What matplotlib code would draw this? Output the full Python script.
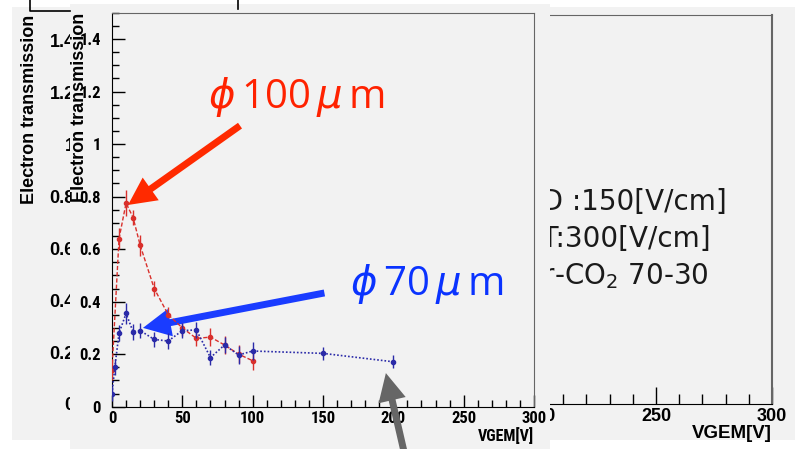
import matplotlib
matplotlib.use('Agg')
import matplotlib.pyplot as plt
from matplotlib import font_manager
from matplotlib.lines import Line2D
from matplotlib.ticker import MultipleLocator

plt.rcParams['mathtext.fontset'] = 'dejavusans'

# phi 100 um holes (red)
v100 = [0, 5, 10, 15, 20, 30, 40, 50, 60, 70, 80, 90, 100]
t100 = [0.14, 0.64, 0.775, 0.72, 0.615, 0.45, 0.35, 0.30, 0.26, 0.265, 0.235, 0.20, 0.175]
e100 = [0.04, 0.04, 0.05, 0.03, 0.04, 0.03, 0.03, 0.03, 0.03, 0.035, 0.035, 0.035, 0.035]

# phi 70 um holes (blue)
v70 = [0, 2, 5, 10, 15, 20, 30, 40, 50, 60, 70, 80, 90, 100, 150, 200]
t70 = [0.05, 0.15, 0.28, 0.355, 0.285, 0.29, 0.256, 0.25, 0.29, 0.292, 0.187, 0.235, 0.197, 0.212, 0.203, 0.171]
e70 = [0.03, 0.03, 0.03, 0.04, 0.03, 0.03, 0.03, 0.03, 0.03, 0.03, 0.03, 0.03, 0.035, 0.035, 0.025, 0.025]

xtick_vals = [0, 50, 100, 150, 200, 250, 300]
xtick_labels = ['0', '50', '100', '150', '200', '250', '300']
ytick_vals = [0, 0.2, 0.4, 0.6, 0.8, 1.0, 1.2, 1.4]
ytick_labels = ['0', '0.2', '0.4', '0.6', '0.8', '1', '1.2', '1.4']
cond_lines = ['ED :150[V/cm]', 'ET:300[V/cm]', 'Ar-CO$_2$ 70-30']

# the inner ROOT plot is squeezed sideways; a narrow helvetica mimics that
wide = ['Liberation Sans', 'DejaVu Sans']
narrow, nscale = wide, 0.8
for cand in ['Liberation Sans Narrow', 'DejaVu Sans Condensed', 'Roboto Condensed']:
    try:
        font_manager.findfont(font_manager.FontProperties(family=cand),
                              fallback_to_default=False)
        narrow, nscale = [cand, 'DejaVu Sans'], 1.0
        break
    except ValueError:
        pass

W, H = 795, 449
fig = plt.figure(figsize=(W / 100, H / 100), dpi=100)
fig.patch.set_facecolor('white')

def box(x0, y0, x1, y1):
    # pixel box (top-left origin) -> figure fraction
    return [x0 / W, 1 - y1 / H, (x1 - x0) / W, (y1 - y0) / H]

bg = '#f2f2f2'

# back slide panel
ax_bgp = fig.add_axes(box(12, 7, 795, 440), zorder=0)
ax_bgp.set_facecolor(bg)
ax_bgp.set_xticks([]); ax_bgp.set_yticks([])
for s in ax_bgp.spines.values():
    s.set_visible(False)

# back plot (mostly hidden)
ax_b = fig.add_axes(box(76, 15, 772, 404), zorder=1)
ax_b.set_facecolor('none')
ax_b.set_xlim(0, 300)
ax_b.set_ylim(0, 1.5)
ax_b.set_xticks(xtick_vals, xtick_labels, fontweight='bold', family=wide, fontsize=13)
ax_b.set_yticks(ytick_vals, ytick_labels, fontweight='bold', family=wide, fontsize=13)
ax_b.xaxis.set_minor_locator(MultipleLocator(10))
ax_b.yaxis.set_minor_locator(MultipleLocator(0.05))
ax_b.tick_params(which='both', direction='in', top=False, right=False)
ax_b.tick_params(which='major', length=12, width=1, pad=3)
ax_b.tick_params(axis='y', which='major', pad=1)
ax_b.tick_params(which='minor', length=7, width=1)
ax_b.set_xlabel('VGEM[V]', loc='right', fontsize=13.5, fontweight='bold',
                family=wide, labelpad=0)
ax_b.set_ylabel('Electron transmission', loc='top', fontsize=13, fontweight='bold',
                family=wide)
ax_b.yaxis.set_label_coords(-0.0545, 1.0)
ax_b.spines['top'].set_color('#666666')
ax_b.spines['right'].set_color('#666666')
ax_b.spines['right'].set_linewidth(1.5)
for i, line in enumerate(cond_lines):
    ax_b.text(524 / W, 1 - (210 + 37 * i) / H, line, transform=fig.transFigure,
              fontsize=20, color='#1a1a1a', va='baseline', ha='left',
              family='DejaVu Sans')

# front slide panel
ax_fp = fig.add_axes(box(70, 4, 550, 449), zorder=2)
ax_fp.set_facecolor(bg)
ax_fp.set_xticks([]); ax_fp.set_yticks([])
for s in ax_fp.spines.values():
    s.set_visible(False)

# front plot
ax = fig.add_axes(box(112, 12.7, 534, 406.7), zorder=3)
ax.set_facecolor('none')
ax.set_xlim(0, 300)
ax.set_ylim(0, 1.5)
ax.set_xticks(xtick_vals, xtick_labels, fontweight='bold', family=narrow,
              fontsize=12 * nscale)
ax.set_yticks(ytick_vals, ytick_labels, fontweight='bold', family=narrow,
              fontsize=12 * nscale)
ax.xaxis.set_minor_locator(MultipleLocator(10))
ax.yaxis.set_minor_locator(MultipleLocator(0.05))
ax.tick_params(which='both', direction='in', top=False, right=False)
ax.tick_params(which='major', length=9, width=1)
ax.tick_params(axis='y', which='major', pad=8)
ax.tick_params(axis='x', which='major', pad=3)
ax.tick_params(which='minor', length=5, width=1)
ax.set_xlabel('VGEM[V]', loc='right', fontsize=11.5 * nscale, fontweight='bold',
              family=narrow, labelpad=1)
ax.set_ylabel('Electron transmission', loc='top', fontsize=13, fontweight='bold',
              family=wide)
ax.yaxis.set_label_coords(-0.057, 1.0)
ax.spines['top'].set_color('#666666')
ax.spines['right'].set_color('#666666')

ax.errorbar(v100, t100, yerr=e100, color='#d9302c', lw=1, ls=(0, (3, 1.5)),
            marker='o', ms=3, elinewidth=1, capsize=0, zorder=3)
ax.errorbar(v70, t70, yerr=e70, color='#2a2aa8', lw=1.2, ls=(0, (1, 1.2)),
            marker='o', ms=3, elinewidth=1, capsize=0, zorder=4)

# hand-drawn annotations
ax.annotate('', xy=(11.4, 0.768), xytext=(91, 1.07),
            arrowprops=dict(width=5, headwidth=20, headlength=20, color='#ff2a00', lw=0),
            annotation_clip=False)
ax.text(131, 1.18, r'$\phi\,$100$\,\mu\,$m', color='#ff2200', fontsize=29,
        family=['Open Sans', 'DejaVu Sans'], ha='center', va='center')
ax.annotate('', xy=(22, 0.30), xytext=(151, 0.433),
            arrowprops=dict(width=5, headwidth=20, headlength=20, color='#1a3cff', lw=0),
            annotation_clip=False)
ax.text(224, 0.467, r'$\phi\,$70$\,\mu\,$m', color='#0a33ff', fontsize=29,
        family=['Open Sans', 'DejaVu Sans'], ha='center', va='center')
ax.annotate('', xy=(194.7, 0.128), xytext=(211, -0.25),
            arrowprops=dict(width=5, headwidth=20, headlength=20, color='#666666', lw=0),
            annotation_clip=False)

# bits of a slide text-box outline
fig.add_artist(Line2D([30 / W, 30 / W, 70 / W], [1, 1 - 10.5 / H, 1 - 10.5 / H],
                      color='black', lw=1.2, zorder=5))
fig.add_artist(Line2D([238 / W, 238 / W], [1, 1 - 9 / H], color='black', lw=1.2, zorder=5))

fig.savefig('out.png', dpi=100, facecolor='white')
